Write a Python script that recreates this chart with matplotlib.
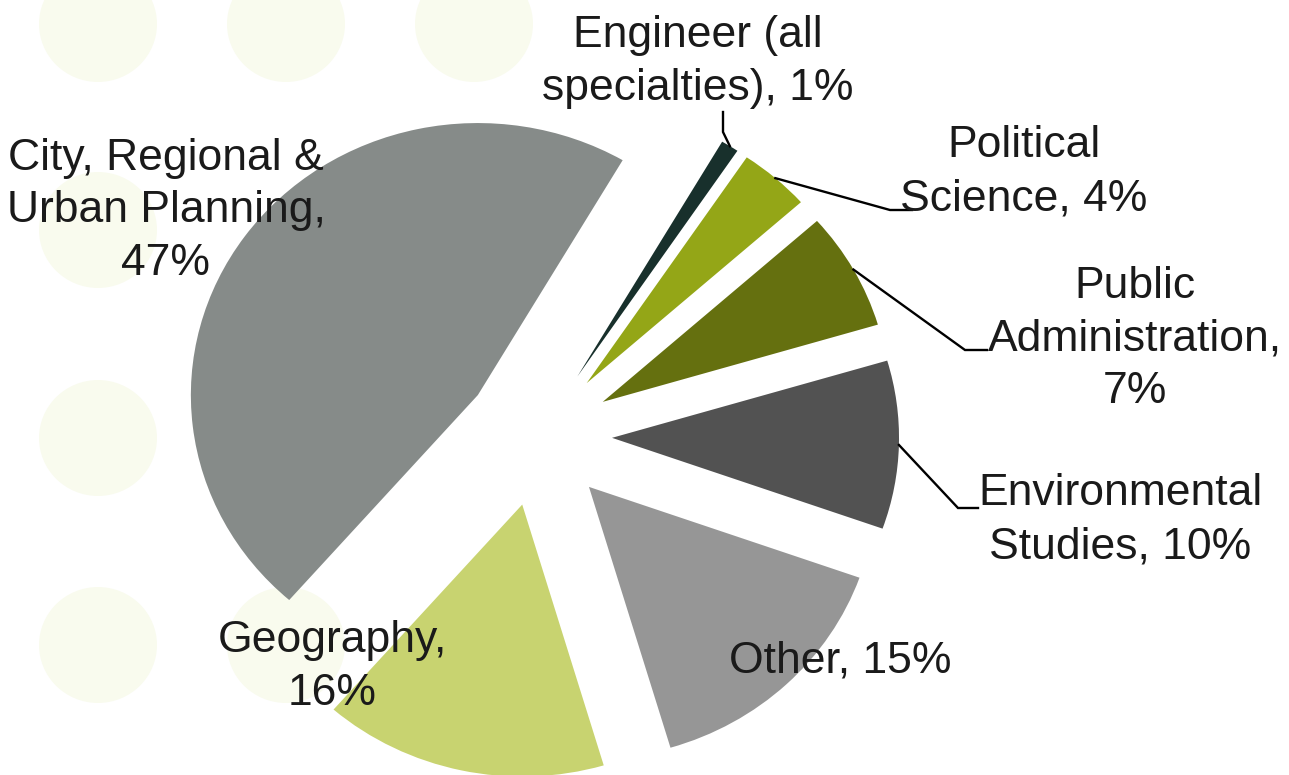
import matplotlib.pyplot as plt
from matplotlib.patches import Ellipse
import numpy as np

# data
fields = ["Engineer (all\nspecialties), 1%", "Political\nScience, 4%", "Public\nAdministration,\n7%",
          "Environmental\nStudies, 10%", "Other, 15%", "Geography,\n16%",
          "City, Regional &\nUrban Planning,\n47%"]
shares = [1, 4, 7, 10, 15, 16, 47]
colors = ["#18302c", "#94a617", "#65700f", "#525252", "#969696", "#c8d370", "#868b89"]

# figure is 1289x775 px; pie drawn a bit wider than tall like the original
W, H = 1289, 775
cx, cy = 538, 436      # pie centre in px
rx, ry = 287, 272      # px per data unit

def X(px):
    return (px - cx) / rx

def Y(py):
    return (cy - py) / ry

fig = plt.figure(figsize=(W / 100, H / 100), dpi=100)
ax = fig.add_axes([0, 0, 1, 1])

# faint decoration dots in the background
dots = [(98, 24), (286, 24), (474, 24), (98, 230), (98, 438), (98, 645), (286, 645)]
for dx, dy in dots:
    ax.add_patch(Ellipse((X(dx), Y(dy)), 2 * 59 / rx, 2 * 58 / ry, color="#f9fbee", lw=0, zorder=0))

wedges, _ = ax.pie(shares, colors=colors, startangle=59.7, counterclock=False,
                   explode=[0.258] * len(shares), radius=1,
                   wedgeprops=dict(linewidth=0, zorder=2))

ax.set_aspect("auto")
ax.set_xlim(X(0), X(W))
ax.set_ylim(Y(H), Y(0))
ax.axis("off")

# label spots (center x, baseline of last line) in px
label_x = [698, 1024, 1135, 1120, 840, 332, 166]
label_base = [100, 210, 403, 558, 672, 705, 275]
for txt, lx, lb in zip(fields, label_x, label_base):
    ax.text(X(lx), Y(lb), txt, ha="center", va="baseline", fontsize=32,
            family=["Liberation Sans", "DejaVu Sans"], color="#1a1a1a",
            linespacing=1.36, zorder=5)

# leader lines for the small slices: arc middle -> elbow -> label
elbows = {0: [(723, 132), (723, 112)], 1: [(890, 210), (912, 210)],
          2: [(965, 350), (987, 350)], 3: [(958, 508), (978, 508)]}
for i, pts in elbows.items():
    w = wedges[i]
    mid = np.deg2rad((w.theta1 + w.theta2) / 2)
    x0 = w.center[0] + w.r * np.cos(mid)
    y0 = w.center[1] + w.r * np.sin(mid)
    xs = [x0] + [X(p[0]) for p in pts]
    ys = [y0] + [Y(p[1]) for p in pts]
    ax.plot(xs, ys, color="black", lw=1.7, zorder=4, solid_joinstyle="miter")

fig.savefig("out.png", dpi=100, facecolor="white")
